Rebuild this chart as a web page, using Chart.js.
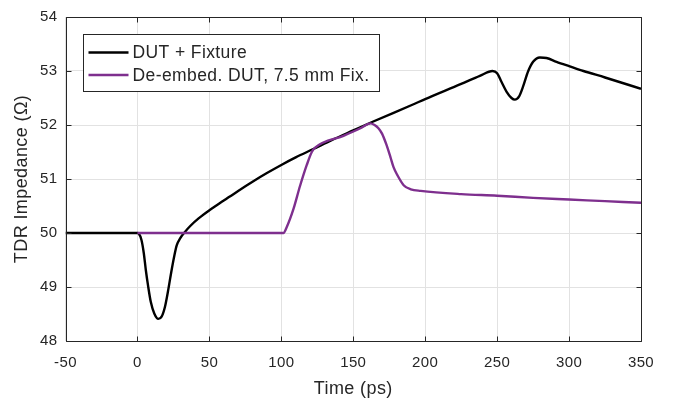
<!DOCTYPE html>
<html>
<head>
<meta charset="utf-8">
<script src="https://cdn.jsdelivr.net/npm/chart.js@4"></script>
<style>
  html, body { margin: 0; padding: 0; background: #ffffff; }
  canvas { display: block; }
</style>
</head>
<body>
<canvas id="c" width="673" height="403"></canvas>
<script>
// ---- Data (time in ps, impedance in ohm) ----
const seriesNames = ["DUT + Fixture", "De-embed. DUT, 7.5 mm Fix."];
const dutTime = [-50, 0, 0.9, 2.8, 4.4, 5.8, 7.4, 9.3, 11.7, 14.5, 16.8, 19.1, 21.5, 23.4, 25.5, 27.3, 30.1, 32.7, 36.7, 42.5, 50, 60, 70, 80, 90, 100, 110, 122.6, 135, 150, 163.5, 191.5, 200, 225, 238, 246.8, 250, 253, 256.5, 260, 262.3, 265.3, 268, 271.5, 275, 279.7, 284.3, 291.3, 300, 310, 325, 350];
const dutZ    = [50, 50, 49.99, 49.87, 49.63, 49.32, 49.02, 48.72, 48.51, 48.41, 48.45, 48.63, 48.96, 49.26, 49.56, 49.77, 49.92, 50.01, 50.13, 50.27, 50.42, 50.60, 50.78, 50.95, 51.11, 51.26, 51.40, 51.56, 51.72, 51.90, 52.06, 52.38, 52.48, 52.76, 52.91, 53.0, 52.96, 52.8, 52.62, 52.5, 52.47, 52.53, 52.71, 52.99, 53.17, 53.25, 53.24, 53.17, 53.09, 53.0, 52.88, 52.67];
const deembTime = [0, 101.5, 103.8, 108.4, 113, 117.7, 121.2, 123.5, 143.2, 155, 161.8, 164.8, 167.5, 170, 173, 175.8, 178, 180.5, 185.2, 190, 196.9, 225, 250, 275, 300, 325, 350];
const deembZ    = [50, 50, 50.11, 50.44, 50.87, 51.26, 51.5, 51.58, 51.8, 51.94, 52.03, 52.0, 51.94, 51.84, 51.64, 51.41, 51.22, 51.08, 50.88, 50.81, 50.78, 50.72, 50.69, 50.65, 50.62, 50.59, 50.56];
const xTicks = [-50, 0, 50, 100, 150, 200, 250, 300, 350];
const yTicks = [48, 49, 50, 51, 52, 53, 54];
const xTitle = "Time (ps)";
const yTitle = "TDR Impedance (\u03A9)";

const toPts = (xs, ys) => xs.map((x, i) => ({x: x, y: ys[i]}));
const AXIS = '#262626';
const FONT = "'Liberation Sans', Arial, Helvetica, sans-serif";
const colors = ['#000000', '#7E2F8E'];

const spacingPlugin = {
  id: 'spacing',
  beforeDraw(chart) { try { chart.ctx.letterSpacing = '0.4px'; } catch (e) {} }
};

const framePlugin = {
  id: 'frame',
  afterDatasetsDraw(chart) {
    const ctx = chart.ctx, a = chart.chartArea;
    const xs = chart.scales.x, ys = chart.scales.y;
    ctx.save();
    ctx.strokeStyle = AXIS;
    ctx.lineWidth = 1;
    const L = Math.round(a.left) + 0.5, R = Math.round(a.right) + 0.5;
    const T = Math.round(a.top) + 0.5, B = Math.round(a.bottom) + 0.5;
    ctx.beginPath();
    ctx.rect(L, T, R - L, B - T);
    const tl = 5;
    xTicks.forEach(v => {
      const px = Math.round(xs.getPixelForValue(v)) + 0.5;
      ctx.moveTo(px, B); ctx.lineTo(px, B - tl);
      ctx.moveTo(px, T); ctx.lineTo(px, T + tl);
    });
    yTicks.forEach(v => {
      const py = Math.round(ys.getPixelForValue(v)) + 0.5;
      ctx.moveTo(L, py); ctx.lineTo(L + tl, py);
      ctx.moveTo(R, py); ctx.lineTo(R - tl, py);
    });
    ctx.stroke();
    ctx.restore();
  }
};

const legendPlugin = {
  id: 'boxLegend',
  afterDraw(chart) {
    const ctx = chart.ctx, a = chart.chartArea;
    const bx = Math.round(a.left + 17) + 0.5, by = Math.round(a.top + 17) + 0.5;
    const bw = 296, bh = 57;
    ctx.save();
    ctx.fillStyle = '#ffffff';
    ctx.fillRect(bx, by, bw, bh);
    ctx.strokeStyle = AXIS;
    ctx.lineWidth = 1;
    ctx.strokeRect(bx, by, bw, bh);
    ctx.font = "17.5px " + FONT;
    try { ctx.letterSpacing = '0.4px'; } catch (e) {}
    ctx.textBaseline = 'middle';
    ctx.textAlign = 'left';
    const rows = [by + 18, by + 40.5];
    seriesNames.forEach((name, i) => {
      const y = rows[i];
      ctx.strokeStyle = colors[i];
      ctx.lineWidth = 2.4;
      ctx.beginPath();
      ctx.moveTo(bx + 5, y);
      ctx.lineTo(bx + 45, y);
      ctx.stroke();
      ctx.fillStyle = AXIS;
      ctx.fillText(name, bx + 49, y + 1);
    });
    ctx.restore();
  }
};

new Chart(document.getElementById('c'), {
  type: 'line',
  data: {
    datasets: [
      { label: seriesNames[0], data: toPts(dutTime, dutZ), borderColor: colors[0], borderWidth: 2.4,
        pointRadius: 0, cubicInterpolationMode: 'monotone', fill: false, order: 2 },
      { label: seriesNames[1], data: toPts(deembTime, deembZ), borderColor: colors[1], borderWidth: 2.4,
        pointRadius: 0, cubicInterpolationMode: 'monotone', fill: false, order: 1 }
    ]
  },
  options: {
    responsive: false,
    animation: false,
    devicePixelRatio: 1,
    layout: { padding: { top: 11, right: 32, left: 0, bottom: 0 } },
    plugins: { legend: { display: false }, tooltip: { enabled: false } },
    scales: {
      x: {
        type: 'linear', min: -50, max: 350,
        afterBuildTicks: s => { s.ticks = xTicks.map(v => ({value: v})); },
        afterFit: s => { s.height = 62; },
        grid: { color: '#e2e2e2', lineWidth: 1, drawTicks: false },
        border: { display: false },
        ticks: { color: AXIS, font: { family: FONT, size: 15 }, padding: 13, maxRotation: 0 },
        title: { display: true, text: xTitle, color: AXIS, font: { family: FONT, size: 18 }, padding: { top: 0, bottom: 3 } }
      },
      y: {
        type: 'linear', min: 48, max: 54,
        afterBuildTicks: s => { s.ticks = yTicks.map(v => ({value: v})); },
        afterFit: s => { s.width = 65.5; },
        grid: { color: '#e2e2e2', lineWidth: 1, drawTicks: false },
        border: { display: false },
        ticks: { color: AXIS, font: { family: FONT, size: 15 }, padding: 8 },
        title: { display: true, text: yTitle, color: AXIS, font: { family: FONT, size: 18 }, padding: { top: 11, bottom: 0 } }
      }
    }
  },
  plugins: [spacingPlugin, framePlugin, legendPlugin]
});
</script>
</body>
</html>
